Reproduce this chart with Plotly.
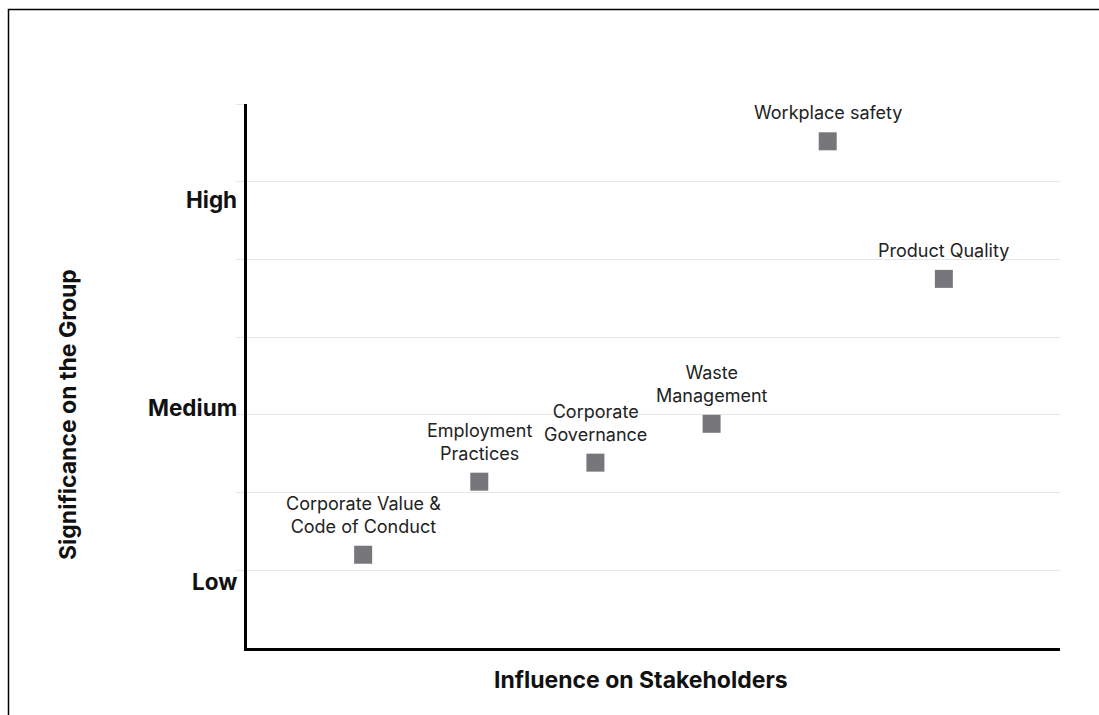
import plotly.graph_objects as go

# ---- data ----
topics = [
    "Corporate Value &<br>Code of Conduct",
    "Employment<br>Practices",
    "Corporate<br>Governance",
    "Waste<br>Management",
    "Workplace safety",
    "Product Quality",
]
influence = [1, 2, 3, 4, 5, 6]
significance = [1.2, 2.14, 2.385, 2.885, 6.52, 4.75]

level_labels = ["Low", "Medium", "High"]
level_positions = [0.85, 3.09, 5.765]

grid_vals = [1, 2, 3, 4, 5, 6, 7]

x_title = "Influence on Stakeholders"
y_title = "Significance on the Group"

# ---- figure ----
W, H = 1099, 715
L, R, T, B = 247, 39, 104, 67
pw, ph = W - L - R, H - T - B

def px_x(p):
    return (p - L) / pw

def px_y(p):
    return (H - B - p) / ph

fig = go.Figure()
fig.add_trace(go.Scatter(
    x=influence, y=significance, mode="markers",
    marker=dict(symbol="square", size=18, color="#77777b", line=dict(width=0)),
    hoverinfo="skip", showlegend=False, cliponaxis=False,
))

annotations = []
for xv, yv, t in zip(influence, significance, topics):
    annotations.append(dict(
        text=t, x=xv, y=yv, xref="x", yref="y", xanchor="center", yanchor="bottom",
        yshift=16, showarrow=False,
        font=dict(family="Inter, Arial, sans-serif", size=18, color="#222222"),
    ))
for lab, pos in zip(level_labels, level_positions):
    annotations.append(dict(
        text=f"<b>{lab}</b>", x=px_x(239), xref="paper", y=pos, yref="y",
        xanchor="right", yanchor="middle", showarrow=False,
        font=dict(family="Inter, Arial, sans-serif", size=22.5, color="#111111"),
    ))
annotations.append(dict(
    text=f"<b>{x_title}</b>", x=px_x(641), xref="paper", y=px_y(680), yref="paper",
    xanchor="center", yanchor="middle", showarrow=False,
    font=dict(family="Inter, Arial, sans-serif", size=23, color="#111111"),
))
annotations.append(dict(
    text=f"<b>{y_title}</b>", x=px_x(68), xref="paper", y=px_y(415), yref="paper",
    xanchor="center", yanchor="middle", showarrow=False, textangle=-90,
    font=dict(family="Inter, Arial, sans-serif", size=23, color="#111111"),
))

fig.update_layout(
    width=W, height=H,
    margin=dict(l=L, r=R, t=T, b=B),
    paper_bgcolor="white", plot_bgcolor="white",
    annotations=annotations,
    shapes=[dict(type="rect", xref="paper", yref="paper",
                 x0=px_x(8.5), x1=px_x(1115), y0=px_y(730), y1=px_y(9.5),
                 line=dict(color="black", width=1.5), fillcolor="rgba(0,0,0,0)",
                 layer="below")],
    xaxis=dict(range=[0, 7], showgrid=False, zeroline=False, showticklabels=False,
               ticks="", showline=True, linecolor="black", linewidth=2.5),
    yaxis=dict(range=[0, 7], tickvals=grid_vals, showgrid=True, gridcolor="#e6e6e6",
               gridwidth=1, zeroline=False, showticklabels=False,
               ticks="outside", ticklen=8, tickcolor="#e6e6e6", tickwidth=1,
               showline=True, linecolor="black", linewidth=2.5),
)

fig.write_html("out.html")
